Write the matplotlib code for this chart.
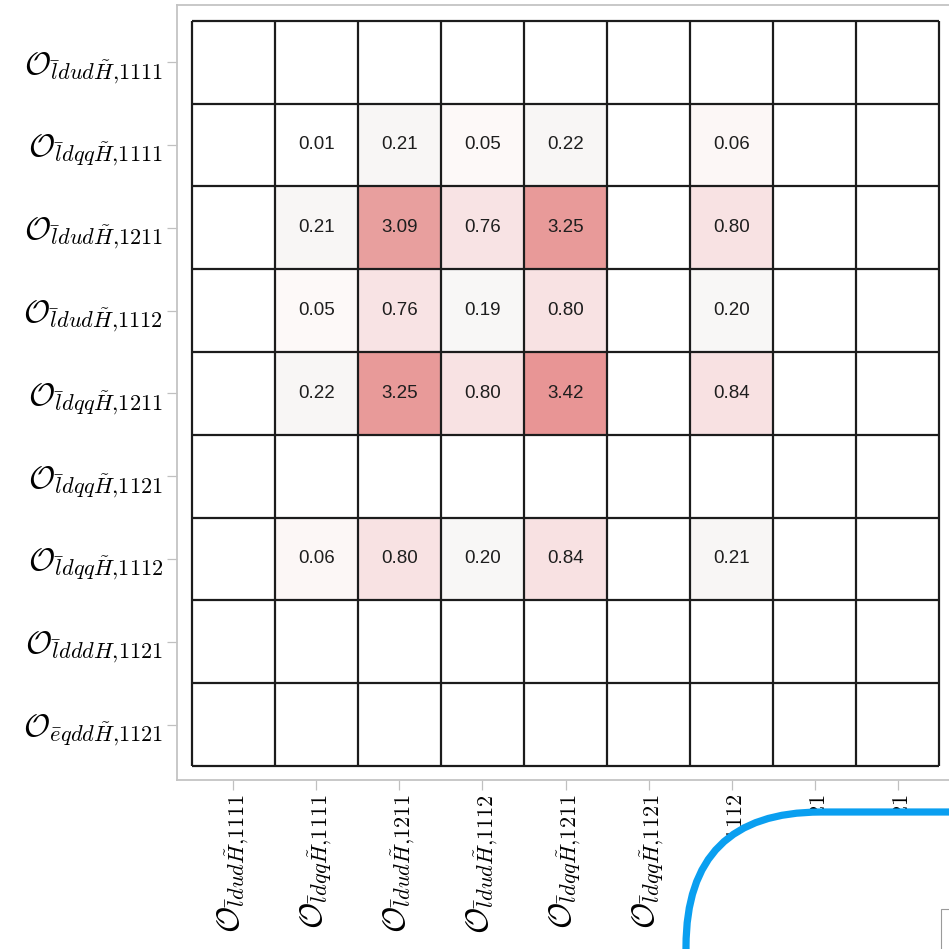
import numpy as np
import matplotlib
matplotlib.use("Agg")
import matplotlib.pyplot as plt
from matplotlib.colors import LinearSegmentedColormap
from matplotlib.patches import FancyBboxPatch, Rectangle

plt.rcParams["mathtext.fontset"] = "cm"

LABELS = [
    r"$\mathcal{O}_{\bar{l}dud\tilde{H}{,}1111}$",
    r"$\mathcal{O}_{\bar{l}dqq\tilde{H}{,}1111}$",
    r"$\mathcal{O}_{\bar{l}dud\tilde{H}{,}1211}$",
    r"$\mathcal{O}_{\bar{l}dud\tilde{H}{,}1112}$",
    r"$\mathcal{O}_{\bar{l}dqq\tilde{H}{,}1211}$",
    r"$\mathcal{O}_{\bar{l}dqq\tilde{H}{,}1121}$",
    r"$\mathcal{O}_{\bar{l}dqq\tilde{H}{,}1112}$",
    r"$\mathcal{O}_{\bar{l}dddH{,}1121}$",
    r"$\mathcal{O}_{\bar{e}qdd\tilde{H}{,}1121}$",
]

nan = np.nan
ROW_0 = [nan] * 9
ROW_1 = [nan, 0.01, 0.21, 0.05, 0.22, nan, 0.06, nan, nan]
ROW_2 = [nan, 0.21, 3.09, 0.76, 3.25, nan, 0.80, nan, nan]
ROW_3 = [nan, 0.05, 0.76, 0.19, 0.80, nan, 0.20, nan, nan]
ROW_4 = [nan, 0.22, 3.25, 0.80, 3.42, nan, 0.84, nan, nan]
ROW_5 = [nan] * 9
ROW_6 = [nan, 0.06, 0.80, 0.20, 0.84, nan, 0.21, nan, nan]
ROW_7 = [nan] * 9
ROW_8 = [nan] * 9
values = np.array([ROW_0, ROW_1, ROW_2, ROW_3, ROW_4, ROW_5, ROW_6, ROW_7, ROW_8])

# colour scale picked off the reference cells
vmax = 3.42
stops = [(0.0, "#ffffff"), (0.05, "#fdf8f7"), (0.20, "#f8f7f6"),
         (0.80, "#f9e2e3"), (3.09, "#e9a09f"), (3.42, "#e89595")]
cmap = LinearSegmentedColormap.from_list(
    "cells", [(v / vmax, c) for v, c in stops])
cmap.set_bad("white")

fig = plt.figure(figsize=(9.49, 9.49), dpi=100)
ax = fig.add_axes([177 / 949, 1 - 780 / 949, 777 / 949, 775 / 949])

n = len(LABELS)
ax.imshow(np.ma.masked_invalid(values), cmap=cmap, vmin=0, vmax=vmax,
          aspect="auto", interpolation="nearest")

for i in range(n):
    for j in range(n):
        v = values[i, j]
        if np.isnan(v):
            continue
        ax.text(j, i, f"{v:.2f}", ha="center", va="center",
                fontsize=13.5, color="#1e1e1e", family="Liberation Sans")

edges = np.arange(n + 1) - 0.5
ax.vlines(edges, -0.5, n - 0.5, color="#1c1c1c", linewidth=1.6, zorder=3)
ax.hlines(edges, -0.5, n - 0.5, color="#1c1c1c", linewidth=1.6, zorder=3)

ax.set_xlim(-0.68, n - 0.5 + 0.18)
ax.set_ylim(n - 0.5 + 0.17, -0.69)

ax.set_xticks(range(n))
ax.set_yticks(range(n))
ax.set_xticklabels(LABELS, rotation=90, fontsize=23)
ax.set_yticklabels(LABELS, fontsize=23)
ax.tick_params(length=7, width=0.9, color="#c0c0c0", pad=3)
for sp in ax.spines.values():
    sp.set_color("#c4c4c4")
    sp.set_linewidth(1.3)

# overlay box in the lower right corner
box = FancyBboxPatch((686 / 949, -0.3), 0.6, 0.3 + 1 - 812 / 949,
                     boxstyle="round,pad=0,rounding_size=0.142",
                     transform=fig.transFigure, facecolor="white",
                     edgecolor="#0a9ff0", linewidth=5.2, zorder=10,
                     clip_on=False)
fig.add_artist(box)
fig.add_artist(Rectangle((941 / 949, -0.1), 0.1, 0.1 + 1 - 909 / 949,
                         transform=fig.transFigure, facecolor="white",
                         edgecolor="#9a9a9a", linewidth=0.8, zorder=11))

fig.savefig("out.png", dpi=100)
